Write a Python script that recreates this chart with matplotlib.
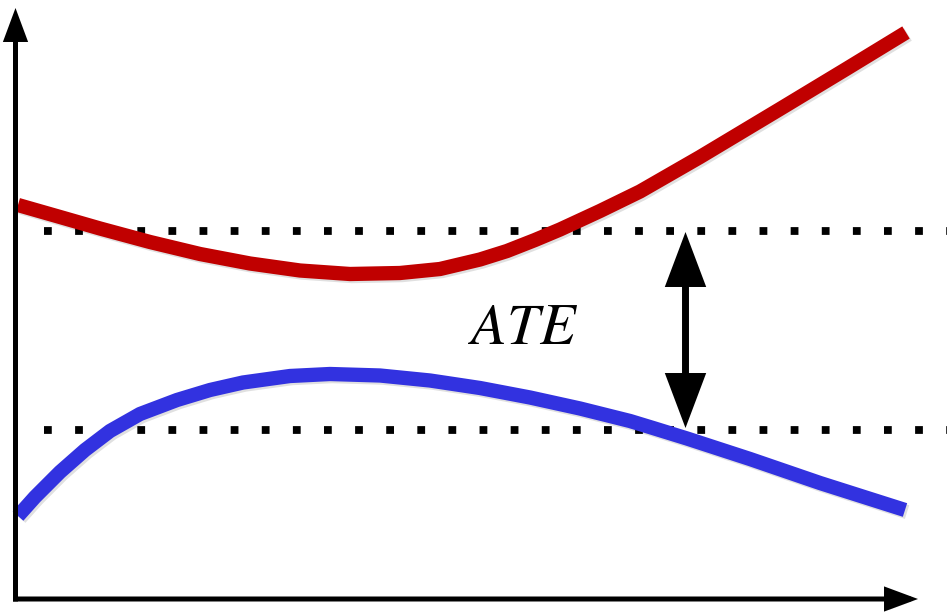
import numpy as np
import matplotlib
matplotlib.use("Agg")
import matplotlib.pyplot as plt
from matplotlib.patches import FancyArrowPatch, ArrowStyle
import matplotlib.patheffects as pe

plt.rcParams['mathtext.fontset'] = 'stix'

# treated outcome curve (red) and control outcome curve (blue), screen-style coords
red_x = [18, 60, 100, 150, 200, 250, 300, 350, 400, 440, 480, 507, 535, 560, 600, 640, 700, 780, 847, 906]
red_y = [205, 217, 228.5, 242, 254, 263.5, 270.5, 274, 273, 269, 259.5, 251, 240, 229.5, 211, 191.5, 157, 109, 68.5, 32.5]

blue_x = [18, 35, 60, 85, 110, 140, 177, 210, 243, 290, 330, 380, 430, 480, 530, 580, 630, 653, 687, 750, 820, 905]
blue_y = [516, 497, 472, 450, 431, 414, 400, 390, 382.5, 376, 374, 375.5, 380.5, 388, 397.5, 408.5, 421, 428, 438.5, 459, 483, 510]

# average levels of the two groups
level_hi = 230.5
level_lo = 429.5
ate_x = 685.5
label = '$ATE$'

W, H = 947, 613
fig = plt.figure(figsize=(W / 100, H / 100), dpi=100)
ax = fig.add_axes([0, 0, 1, 1])
ax.set_xlim(0, W)
ax.set_ylim(H, 0)
ax.axis('off')

shadow = [pe.SimpleLineShadow(offset=(1.5, -1.5), shadow_color='k', alpha=0.12), pe.Normal()]
pshadow = [pe.SimplePatchShadow(offset=(1.5, -1.5), shadow_rgbFace='k', alpha=0.12), pe.Normal()]

# dotted reference levels
for lv in (level_hi, level_lo):
    ax.plot([44, W], [lv, lv], color='black', lw=5.6, dashes=(1, 3),
            solid_capstyle='butt', dash_capstyle='butt', zorder=2)

ax.plot(red_x, red_y, color='#C00000', lw=10.3, solid_capstyle='butt',
        solid_joinstyle='round', path_effects=shadow, zorder=3)
ax.plot(blue_x, blue_y, color='#3232E0', lw=10.3, solid_capstyle='butt',
        solid_joinstyle='round', path_effects=shadow, zorder=3)

# axes drawn as arrows
axis_style = ArrowStyle('-|>', head_length=17.5, head_width=6.5)
ax.add_patch(FancyArrowPatch((15.5, 601.5), (15.5, 8), arrowstyle=axis_style,
                             mutation_scale=1, lw=3.6, color='black', shrinkA=0, shrinkB=0,
                             joinstyle='miter', capstyle='butt', path_effects=pshadow, zorder=4))
ax.add_patch(FancyArrowPatch((13, 599), (918, 599), arrowstyle=axis_style,
                             mutation_scale=1, lw=3.6, color='black', shrinkA=0, shrinkB=0,
                             joinstyle='miter', capstyle='butt', path_effects=pshadow, zorder=4))

# double arrow marking the effect
ate_style = ArrowStyle('<|-|>', head_length=30, head_width=11.3)
ax.add_patch(FancyArrowPatch((ate_x, level_hi + 1.5), (ate_x, level_lo - 1.5), arrowstyle=ate_style,
                             mutation_scale=1, lw=5, color='black', shrinkA=0, shrinkB=0,
                             joinstyle='miter', capstyle='butt', path_effects=pshadow, zorder=5))

ax.text(523, 327, label, fontsize=42, ha='center', va='center', color='black', zorder=6)

fig.savefig('out.png', dpi=100)
